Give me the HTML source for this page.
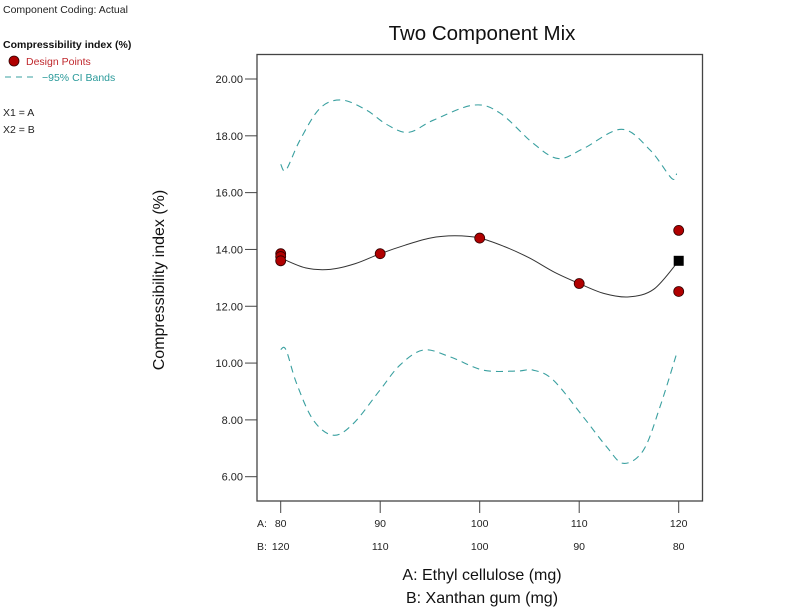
<!DOCTYPE html>
<html><head><meta charset="utf-8"><style>
body{margin:0;background:#fff;font-family:"Liberation Sans","DejaVu Sans",sans-serif;}
svg text{font-family:"Liberation Sans","DejaVu Sans",sans-serif;}
</style></head><body>
<svg id="c" width="811" height="608" xmlns="http://www.w3.org/2000/svg">
<text x="3" y="13" font-size="10.5" fill="#222">Component Coding: Actual</text>
<text x="3" y="48" font-size="10.5" font-weight="bold" fill="#111">Compressibility index (%)</text>
<circle cx="14" cy="61" r="5" fill="#b00000" stroke="#300" stroke-width="0.8"/>
<text x="26" y="65" font-size="10.5" fill="#c0282d">Design Points</text>
<line x1="5" y1="77" x2="36" y2="77" stroke="#3aa0a0" stroke-width="1" stroke-dasharray="6,5"/>
<text x="42" y="81" font-size="10.5" fill="#2a9a9a">−95% CI Bands</text>
<text x="3" y="116" font-size="10.5" fill="#222">X1 = A</text>
<text x="3" y="133" font-size="10.5" fill="#222">X2 = B</text>
<text x="482" y="40" font-size="20.5" text-anchor="middle" fill="#111">Two Component Mix</text>
<rect x="257" y="54.5" width="445.5" height="446.5" fill="none" stroke="#444" stroke-width="1.3"/>
<text transform="translate(164,280) rotate(-90)" font-size="16" text-anchor="middle" fill="#111">Compressibility index (%)</text>
<text x="482" y="580" font-size="16" text-anchor="middle" fill="#111">A: Ethyl cellulose (mg)</text>
<text x="482" y="603" font-size="16" text-anchor="middle" fill="#111">B: Xanthan gum (mg)</text>
<text x="257" y="527" font-size="10.5" fill="#222">A:</text>
<text x="257" y="550" font-size="10.5" fill="#222">B:</text>
<g id="g"></g>
</svg>
<script>
const yTicks=[6,8,10,12,14,16,18,20];
const yTickLabels=["6.00","8.00","10.00","12.00","14.00","16.00","18.00","20.00"];
const xTicks=[80,90,100,110,120];
const aLabels=["80","90","100","110","120"];
const bLabels=["120","110","100","90","80"];
const fitX=[80,82.5,85,87.5,90,92.5,95,97.5,100,102.5,105,107.5,110,112.5,115,117.5,120];
const fitY=[13.7,13.35,13.3,13.5,13.85,14.15,14.4,14.48,14.4,14.1,13.7,13.2,12.8,12.45,12.33,12.6,13.6];
const upX=[80,80.54,81.94,83.95,86.13,88.64,90.65,92.83,95.34,99.36,102.04,105.39,107.9,110.42,114.27,117.12,119.3,119.8];
const upY=[17.0,16.8,17.85,18.97,19.26,18.9,18.4,18.12,18.55,19.08,18.8,17.73,17.2,17.55,18.23,17.5,16.5,16.67];
const loX=[80,80.54,81.6,83.28,85.29,87.3,89.98,91.99,94.34,97.02,100.37,103.72,105.39,107.4,110.42,112.76,114.44,116.45,118.12,119.8];
const loY=[10.48,10.46,9.28,7.99,7.46,7.87,9.05,9.93,10.46,10.22,9.75,9.72,9.75,9.4,8.1,7.05,6.47,6.93,8.46,10.34];
const ptX=[80,80,80,90,100,110,120,120];
const ptY=[13.85,13.75,13.6,13.85,14.4,12.8,14.67,12.52];
const sqX=[120];
const sqY=[13.6];
const sx=v=>280.7+(v-80)*(398/40);
const sy=v=>79-(v-20)*(397.7/14);
const NS="http://www.w3.org/2000/svg";
const g=document.getElementById('g');
function mk(t,a){const e=document.createElementNS(NS,t);for(const k in a)e.setAttribute(k,a[k]);g.appendChild(e);return e;}
function spline(xs,ys){const p=xs.map((x,i)=>[sx(x),sy(ys[i])]);let d=`M${p[0][0]},${p[0][1]}`;
for(let i=0;i<p.length-1;i++){const p0=p[Math.max(0,i-1)],p1=p[i],p2=p[i+1],p3=p[Math.min(p.length-1,i+2)];
d+=` C${p1[0]+(p2[0]-p0[0])/6},${p1[1]+(p2[1]-p0[1])/6} ${p2[0]-(p3[0]-p1[0])/6},${p2[1]-(p3[1]-p1[1])/6} ${p2[0]},${p2[1]}`;}return d;}
yTicks.forEach((v,i)=>{
const l=mk('line',{x1:245,x2:257,y1:sy(v),y2:sy(v),stroke:'#444','stroke-width':1});


const t=mk('text',{x:243,y:sy(v)+4,'font-size':11,'text-anchor':'end',fill:'#222'});t.textContent=yTickLabels[i];


});
xTicks.forEach((v,i)=>{
const l=mk('line',{x1:sx(v),x2:sx(v),y1:501,y2:513,stroke:'#444','stroke-width':1});


const t=mk('text',{x:sx(v),y:527,'font-size':10.5,'text-anchor':'middle',fill:'#222'});t.textContent=aLabels[i];


const t2=mk('text',{x:sx(v),y:550,'font-size':10.5,'text-anchor':'middle',fill:'#222'});t2.textContent=bLabels[i];


});
const u=mk('path',{d:spline(upX,upY),fill:'none',stroke:'#3aa0a0','stroke-width':1.1,'stroke-dasharray':'7,5'});


const lo=mk('path',{d:spline(loX,loY),fill:'none',stroke:'#3aa0a0','stroke-width':1.1,'stroke-dasharray':'7,5'});


const f=mk('path',{d:spline(fitX,fitY),fill:'none',stroke:'#333','stroke-width':1});


sqX.forEach((v,i)=>{const s=mk('rect',{x:sx(v)-5,y:sy(sqY[i])-5,width:10,height:10,fill:'#000'});

});
ptX.forEach((v,i)=>{const c=mk('circle',{cx:sx(v),cy:sy(ptY[i]),r:5,fill:'#b00000',stroke:'#300','stroke-width':0.8});

});
</script>
</body></html>
